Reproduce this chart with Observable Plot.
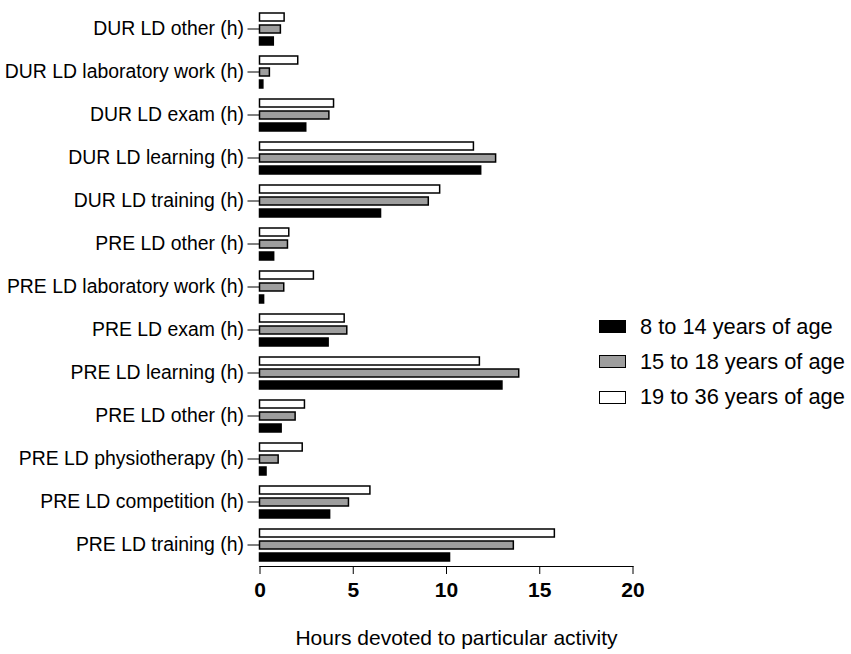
<!DOCTYPE html>
<html>
<head>
<meta charset="utf-8">
<script src="https://cdn.jsdelivr.net/npm/d3@7"></script>
<script src="https://cdn.jsdelivr.net/npm/@observablehq/plot@0.6"></script>
<style>
  html, body { margin: 0; padding: 0; background: #fff; }
  #wrap { position: relative; width: 851px; height: 654px; font-family: "Liberation Sans", Arial, sans-serif; }
  #legend { position: absolute; left: 599px; top: 309px; }
  .row { display: flex; align-items: center; height: 35.3px; }
  .sw { width: 25px; height: 11px; border: 1.5px solid #000; margin-right: 14px; }
  .lt { font-size: 21.8px; color: #000; white-space: nowrap; }
  svg g[aria-label="fy-axis tick label"] text { font-size: 19.4px; }
  svg g[aria-label="x-axis tick label"] text { font-size: 21px; font-weight: bold; }
  svg g[aria-label="x-axis label"] text { font-size: 21px; }
</style>
</head>
<body>
<div id="wrap"></div>
<script>
const categories = [
  "DUR LD other (h)",
  "DUR LD laboratory work (h)",
  "DUR LD exam (h)",
  "DUR LD learning (h)",
  "DUR LD training (h)",
  "PRE LD other (h)",
  "PRE LD laboratory work (h)",
  "PRE LD exam (h)",
  "PRE LD learning (h)",
  "PRE LD other (h)",
  "PRE LD physiotherapy (h)",
  "PRE LD competition (h)",
  "PRE LD training (h)"
];
const seriesNames = ["8 to 14 years of age", "15 to 18 years of age", "19 to 36 years of age"];
const seriesColors = ["#000000", "#9e9e9e", "#ffffff"];
const age8to14 = [0.74, 0.18, 2.48, 11.86, 6.49, 0.76, 0.22, 3.68, 13.0, 1.16, 0.35, 3.76, 10.19];
const age15to18 = [1.12, 0.53, 3.72, 12.66, 9.05, 1.5, 1.3, 4.68, 13.9, 1.91, 1.0, 4.77, 13.61];
const age19to36 = [1.32, 2.05, 3.97, 11.47, 9.66, 1.57, 2.89, 4.54, 11.79, 2.41, 2.29, 5.92, 15.81];
const xTicks = [0, 5, 10, 15, 20];
const xLabel = "Hours devoted to particular activity";

const seriesValues = [age8to14, age15to18, age19to36];
const rows = [];
categories.forEach((c, i) => {
  seriesNames.forEach((s, j) => {
    rows.push({key: i, series: s, value: seriesValues[j][i]});
  });
});

const chart = Plot.plot({
  width: 851,
  height: 654,
  marginLeft: 259.5,
  marginRight: 218.5,
  marginTop: 5,
  marginBottom: 87,
  style: {fontFamily: '"Liberation Sans", Arial, sans-serif', color: "#000", background: "#fff"},
  x: {
    domain: [0, 20],
    ticks: xTicks,
    tickSize: 8,
    tickPadding: 8,
    line: true,
    label: xLabel,
    labelAnchor: "center",
    labelArrow: "none",
    labelOffset: 78
  },
  fy: {
    domain: d3.range(categories.length),
    padding: 0,
    axis: "left",
    tickFormat: i => categories[i],
    tickSize: 12,
    tickPadding: 4,
    line: true,
    label: null
  },
  y: {
    domain: [seriesNames[2], seriesNames[1], seriesNames[0]],
    axis: null,
    paddingInner: 0.35,
    paddingOuter: 0.34
  },
  color: {domain: seriesNames, range: seriesColors},
  marks: [
    Plot.barX(rows, {
      x: "value",
      y: "series",
      fy: "key",
      fill: "series",
      stroke: "#000",
      strokeWidth: 1.5
    })
  ]
});
const labelText = chart.querySelector('g[aria-label="x-axis label"] text');
if (labelText) labelText.setAttribute("dx", "10");
document.getElementById("wrap").appendChild(chart);

const legend = document.createElement("div");
legend.id = "legend";
seriesNames.forEach((s, j) => {
  const row = document.createElement("div");
  row.className = "row";
  const sw = document.createElement("div");
  sw.className = "sw";
  sw.style.background = seriesColors[j];
  const lt = document.createElement("span");
  lt.className = "lt";
  lt.textContent = s;
  row.appendChild(sw);
  row.appendChild(lt);
  legend.appendChild(row);
});
document.getElementById("wrap").appendChild(legend);
</script>
</body>
</html>
